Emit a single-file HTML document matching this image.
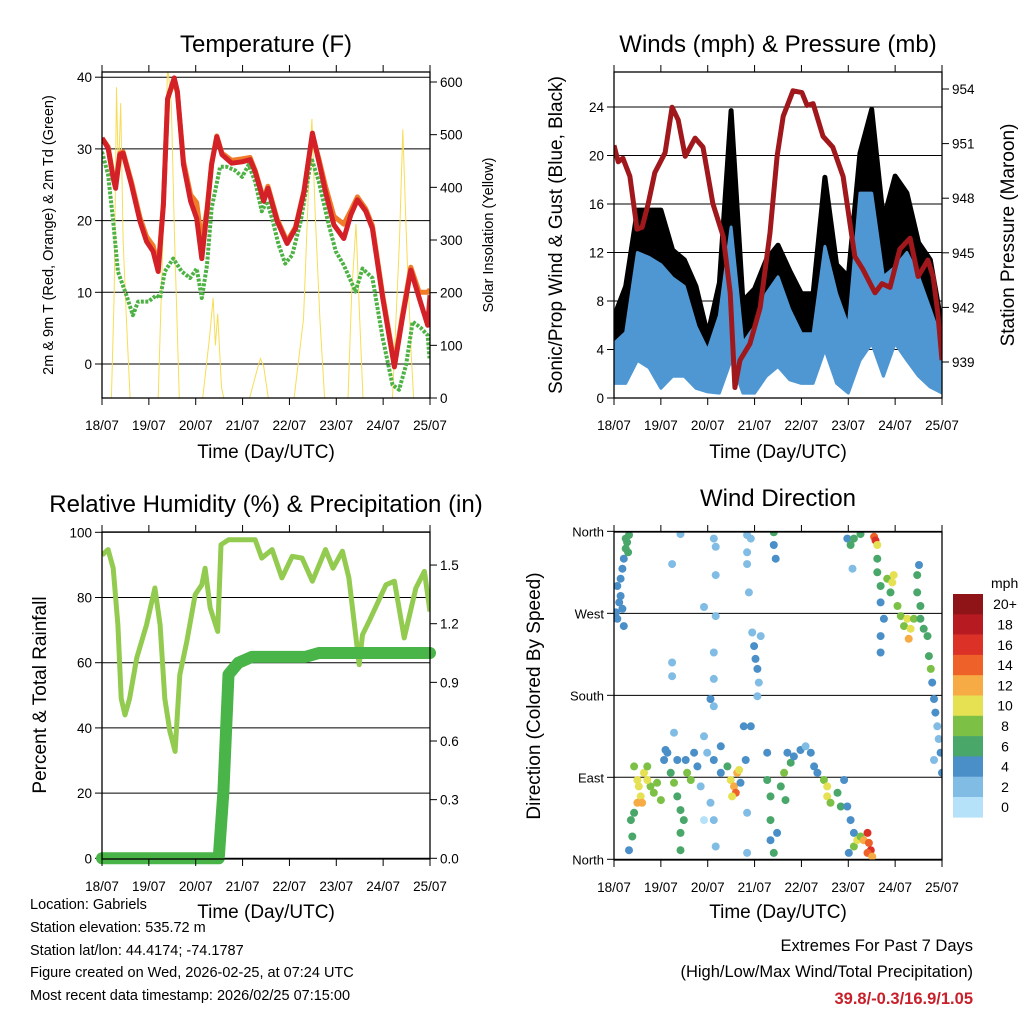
<!DOCTYPE html>
<html><head><meta charset="utf-8">
<style>
html,body{margin:0;padding:0;background:#fff;}
svg{display:block;font-family:"Liberation Sans",Arial,sans-serif;}
</style></head>
<body>
<svg id="root" width="1024" height="1024" viewBox="0 0 1024 1024" xmlns="http://www.w3.org/2000/svg">
<defs>
<clipPath id="c1"><rect x="102" y="72" width="328" height="326"/></clipPath>
<clipPath id="c2"><rect x="614" y="72" width="328" height="326"/></clipPath>
<clipPath id="c3"><rect x="102" y="532" width="328" height="327"/></clipPath>
<clipPath id="c4"><rect x="614" y="532" width="328" height="328"/></clipPath>
</defs>
<g id="g1"></g>
<g id="g2"></g>
<g id="g3"></g>
<g id="g4"></g>
<g font-size="14.5" fill="#000">
<text x="30" y="909">Location: Gabriels</text>
<text x="30" y="932">Station elevation: 535.72 m</text>
<text x="30" y="955">Station lat/lon: 44.4174; -74.1787</text>
<text x="30" y="977">Figure created on Wed, 2026-02-25, at 07:24 UTC</text>
<text x="30" y="1000">Most recent data timestamp: 2026/02/25 07:15:00</text>
</g>
<g text-anchor="end">
<text x="973" y="951" font-size="16.5">Extremes For Past 7 Days</text>
<text x="973" y="977" font-size="16.5">(High/Low/Max Wind/Total Precipitation)</text>
<text x="973" y="1004" font-size="16.5" font-weight="bold" fill="#c8202a">39.8/-0.3/16.9/1.05</text>
</g>
</svg>
<script>
// ---------- data ----------
const dayLabels = ["18/07","19/07","20/07","21/07","22/07","23/07","24/07","25/07"];
const tempTicks = [0,10,20,30,40];
const solarTicks = [0,100,200,300,400,500,600];
const windTicks = [0,4,8,12,16,20,24];
const presTicks = [939,942,945,948,951,954];
const rhTicks = [0,20,40,60,80,100];
const precTicks = [0.0,0.3,0.6,0.9,1.2,1.5];
const precTickLabels = ["0.0","0.3","0.6","0.9","1.2","1.5"];
const dirTicks = [0,90,180,270,360];
const dirTickLabels = ["North","East","South","West","North"];
const speedBins = ["0","2","4","6","8","10","12","14","16","18","20+"];

const tempT = [0,0.13,0.24,0.29,0.38,0.45,0.63,0.81,0.95,1.09,1.2,1.31,1.4,1.54,1.61,1.74,1.89,2.02,2.13,2.24,2.34,2.45,2.56,2.77,2.99,3.16,3.27,3.45,3.54,3.74,3.95,4.13,4.31,4.49,4.63,4.77,4.95,5.16,5.31,5.45,5.63,5.77,5.99,6.24,6.41,6.59,6.77,6.95,7.0];
const temp2m = [31.5,30.1,25.9,24.5,29.2,29.4,25,19.9,17.1,15.7,12.9,22.2,37,39.9,38,27.8,22.7,20.3,14.7,21.3,27.8,31.7,29.2,28,28.2,28.5,26.8,22.7,24.5,19.9,16.8,18.9,24,32.2,28.2,24,19.4,17.5,20.8,22.9,21.3,18.9,9.2,-0.4,6.4,13.1,9.2,5.4,9.6];
const temp9m = [31.5,30.3,26.2,24.8,29.4,29.6,25.4,20.4,17.8,16.5,13.5,22.4,37,39.6,37.8,28.3,23.6,22.5,17,21.6,28,31.8,29.4,28.4,28.6,28.8,27,23,24.8,20.2,17.1,19.1,24.2,32,28.6,24.8,20.6,19.5,21.4,23.3,21.6,19.3,9.6,0,6.8,13.5,10,10,10.4];
const dewT = [0,0.13,0.24,0.34,0.52,0.66,0.77,0.99,1.16,1.24,1.34,1.52,1.7,1.88,2.02,2.13,2.24,2.34,2.52,2.66,2.84,2.99,3.13,3.27,3.41,3.52,3.63,3.77,3.91,4.06,4.24,4.47,4.63,4.84,4.99,5.16,5.41,5.56,5.77,5.99,6.2,6.34,6.49,6.63,6.81,6.95,6.99];
const dewV = [29.6,26.4,19.9,12.9,9.6,6.8,8.7,8.7,9.6,9.2,12.9,14.7,12.9,12,13.3,9.2,13.8,21.7,27.5,27.5,27,26.1,27.8,25.4,21.3,22.7,20.3,16.6,14,15.2,19.9,28.7,25.4,19.4,15.7,13.8,10.1,13.3,12,3.6,-2.9,-3.6,-0.1,5.9,5,4,0.8];
const solarT = [0,0.2,0.26,0.31,0.35,0.4,0.45,0.52,0.6,1.2,1.3,1.4,1.48,1.55,1.65,2.15,2.3,2.37,2.42,2.47,2.55,2.6,3.15,3.3,3.38,3.45,3.55,4.1,4.3,4.43,4.48,4.55,4.65,4.75,5.25,5.33,5.42,5.5,5.57,6.2,6.35,6.42,6.48,6.52,6.6,6.65,7];
const solarV = [0,0,200,590,420,560,300,150,0,0,300,630,560,300,0,0,120,190,100,160,20,0,0,50,75,60,0,0,150,450,530,350,150,0,0,200,330,150,0,0,300,510,350,250,80,0,0];

const windT = [0,0.25,0.5,0.75,1,1.25,1.5,1.75,2,2.25,2.5,2.75,3,3.25,3.5,3.75,4,4.25,4.5,4.75,5,5.25,5.5,5.75,6,6.25,6.5,6.75,7];
const gustHi = [6.7,9.2,15.5,15.5,15.5,12.2,11.4,9.2,5.2,9.5,23.7,8,9,11.4,12.6,10.5,8.6,8.6,18.2,11,10,20.2,23.8,14.7,18.3,16.9,12.8,11.4,5.9];
const gustLo = [4.5,5.4,10,8.6,8,7,5.9,4.5,3.3,3.3,12.8,5,4.5,6.8,7.6,6.4,4.7,4.4,8.6,6.4,5.4,11.4,12.8,7.3,11.4,10,7.3,5.9,3.1];
const windHi = [4.5,5.4,12,11.6,11,9.9,9.2,5.9,3.9,6.8,14.1,4.5,5.9,8.6,10,7.3,5.3,5.3,12.5,8.6,5.9,16.9,16.9,10,10.8,12,10,7.3,4.5];
const windLo = [1.2,1.2,3.1,2.5,0.8,1.8,1.8,0.8,0.5,0.4,3.1,0.4,0.4,1.8,2.6,1.5,1.2,1.2,4,1.2,0.4,3.1,4.5,1.8,4.5,3.1,1.8,0.9,0.4];
const presT = [0,0.09,0.19,0.34,0.49,0.6,0.73,0.87,1.09,1.24,1.37,1.52,1.73,1.9,2.11,2.33,2.48,2.58,2.69,2.9,3.12,3.33,3.48,3.61,3.82,4.01,4.12,4.25,4.46,4.67,4.89,5.14,5.31,5.57,5.72,5.89,6.1,6.32,6.49,6.7,6.81,6.91,7.0];
const presV = [950.9,950,950.2,949.2,946.3,946.4,947.7,949.4,950.5,953,952.3,950.3,951.3,950.8,947.7,945.9,942.8,937.6,939.1,940,942,946.1,950.3,952.5,953.9,953.8,953.1,953.2,951.4,950.8,949.2,944.8,944.1,942.8,943.3,943.1,945.2,945.8,943.7,944.6,943.7,941.7,939.1];

const rhT = [0,0.13,0.24,0.34,0.41,0.49,0.59,0.74,0.95,1.13,1.24,1.34,1.45,1.56,1.66,1.81,1.99,2.13,2.2,2.31,2.47,2.54,2.7,3.27,3.41,3.63,3.84,4.06,4.27,4.49,4.77,4.93,5.13,5.27,5.49,5.56,5.7,6.06,6.24,6.45,6.7,6.88,7.0];
const rhV = [93,94.7,89,71.6,49,44,49,61.4,71.6,82.9,71.6,49,38.9,32.8,56.3,66.5,80.9,83.9,89,76.8,69.6,96.2,97.7,97.7,92.1,94.7,86,92.6,92.1,85,94.7,89,94.2,86,59.4,68.6,72.7,83.9,85,67.6,82.9,88,75.7];
const precT = [0,2.49,2.59,2.7,2.91,3.2,4.34,4.63,7.0];
const precV = [0,0,0.34,0.94,1.0,1.03,1.03,1.05,1.05];

const dirDay = [0.07,0.11,0.07,0.14,0.18,0.21,0.25,0.28,0.32,0.14,0.04,0.21,0.25,0.30,0.18,
0.43,0.50,0.53,0.57,0.50,0.60,0.64,0.71,0.78,0.85,0.92,1.00,0.71,1.07,1.14,1.21,1.28,1.35,1.42,1.49,1.42,1.42,0.36,0.39,0.32,0.43,
1.10,1.28,1.35,1.56,1.64,1.53,1.71,1.78,1.85,1.92,1.99,2.06,2.13,1.92,2.13,2.28,2.28,2.42,2.49,2.56,2.60,2.63,2.67,2.52,2.70,2.77,2.81,2.92,2.84,2.84,
2.17,2.13,2.06,2.13,2.13,2.17,1.92,2.17,2.17,2.13,1.24,1.24,1.24,1.42,2.88,2.84,2.84,2.84,2.92,
2.99,3.02,3.06,3.09,3.13,2.95,3.06,3.27,3.34,3.34,3.41,3.34,3.48,3.27,3.41,3.41,3.45,3.56,3.63,3.66,3.77,3.70,3.84,3.98,4.09,4.20,4.27,4.34,4.48,4.55,4.55,4.62,4.77,4.84,4.91,4.98,5.05,5.12,5.01,
5.12,5.19,5.26,5.33,5.41,5.44,5.48,5.41,5.51,
4.98,5.05,5.12,5.26,5.09,5.55,5.58,5.62,5.62,5.62,
5.69,5.83,5.94,5.97,5.90,5.69,5.76,5.69,5.69,6.05,6.12,6.19,6.26,6.33,6.29,6.40,6.47,6.47,6.54,6.54,6.61,6.69,6.72,6.76,6.79,6.83,6.86,6.90,6.93,6.97,7.00,6.83,6.51];
const dirDeg = [300,282,264,308,319,330,341,348,356,289,271,256,352,337,275,
102,87,80,69,62,62,95,102,80,73,84,65,87,109,117,95,84,69,54,43,29,10,43,25,10,51,
120,139,109,95,87,109,117,102,80,135,117,62,43,43,109,124,95,102,87,80,73,95,98,69,84,146,109,146,51,7,
14,168,176,198,227,267,277,312,343,352,201,216,324,357,293,324,337,356,352,
234,220,209,194,245,249,179,87,69,43,7,21,29,117,359,345,330,80,95,65,106,117,113,120,124,117,102,95,87,80,69,62,73,58,87,58,43,29,7,
14,21,25,21,29,18,10,7,3,
352,345,352,357,319,354,350,345,330,315,
300,308,304,312,293,282,264,245,227,278,267,256,264,253,242,264,312,293,278,264,253,245,223,209,194,176,161,146,132,117,95,109,323];
const dirSpd = [4,4,3,4,4,4,6,6,5,3,3,4,6,5,4,
8,10,10,10,12,11,9,8,8,7,8,8,9,4,4,5,8,6,6,6,6,6,6,6,4,6,
3,2,4,8,8,4,3,3,2,2,2,2,2,0,4,4,4,6,9,12,14,12,10,10,4,4,3,4,2,2,
2,2,3,2,2,2,2,2,2,2,1,2,1,2,1,1,1,2,2,
4,4,3,2,1,1,2,6,6,6,6,4,4,4,6,4,4,6,7,6,5,4,4,3,2,4,4,4,8,10,10,8,6,6,3,4,4,4,4,
8,10,8,12,16,14,16,14,12,
4,6,6,6,2,14,16,10,6,6,
6,8,10,10,6,4,4,4,4,8,8,8,10,10,12,8,6,6,6,6,6,6,6,8,4,4,4,2,2,4,4,1,4];
const speedColors = ["#b5e2f8","#81bce5","#4a8fc7","#4aa76a","#7cc146","#e6e053","#f6ab45","#ee6128","#dc3127","#b71b21","#8e1418"];

// ---------- helpers ----------
const NS = "http://www.w3.org/2000/svg";
function mk(parent, tag, attrs, txt){
  const e = document.createElementNS(NS, tag);
  for (const k in attrs) e.setAttribute(k, attrs[k]);
  if (txt !== undefined) e.textContent = txt;
  parent.appendChild(e);
  return e;
}
function xScale(x0,x1){ return d => x0 + d*(x1-x0)/7; }
function pathFrom(xs, ys, fx, fy){
  let s = "";
  for (let i=0;i<xs.length;i++) s += (i?"L":"M") + fx(xs[i]).toFixed(1) + "," + fy(ys[i]).toFixed(1);
  return s;
}
function bandFrom(xs, hi, lo, fx, fy){
  let s = "";
  for (let i=0;i<xs.length;i++) s += (i?"L":"M") + fx(xs[i]).toFixed(1)+","+fy(hi[i]).toFixed(1);
  for (let i=xs.length-1;i>=0;i--) s += "L" + fx(xs[i]).toFixed(1)+","+fy(lo[i]).toFixed(1);
  return s + "Z";
}
function xAxis(g, x0, x1, yb, yt, titleY){
  const fx = xScale(x0,x1);
  dayLabels.forEach((lab,i)=>{
    const x = fx(i);
    const tb = mk(g,"line",{x1:x,y1:yb,x2:x,y2:yb+7,stroke:"#000","stroke-width":1});
    
    
    const tt = mk(g,"line",{x1:x,y1:yt,x2:x,y2:yt-7,stroke:"#000","stroke-width":1});
    
    
    const t = mk(g,"text",{x:x,y:yb+32,"font-size":13.5,"text-anchor":"middle"},lab);
    
    
  });
  const tl = mk(g,"text",{x:(x0+x1)/2,y:titleY,"font-size":19,"text-anchor":"middle"},"Time (Day/UTC)");
  
  
}
function yTicks(g, vals, labels, fy, x, side, grid, x0, x1, fs){
  vals.forEach((v,i)=>{
    const y = fy(v);
    if (grid){
      const gl = mk(g,"line",{x1:x0,y1:y,x2:x1,y2:y,stroke:"#000","stroke-width":1});
      
      
    }
    const dx = side==="left" ? -7 : 7;
    const tk = mk(g,"line",{x1:x,y1:y,x2:x+dx,y2:y,stroke:"#000","stroke-width":1});
    
    
    const t = mk(g,"text",{x: side==="left"? x-10 : x+10, y:y+5,"font-size":fs||13.5,"text-anchor": side==="left"?"end":"start"}, labels? labels[i] : String(v));
    
    
  });
}
function frame(g,x0,y0,x1,y1){
  const r = mk(g,"rect",{x:x0,y:y0,width:x1-x0,height:y1-y0,fill:"none",stroke:"#000","stroke-width":1.3});
  
  
}
function vtext(g,x,y,txt,fs,name){
  const t = mk(g,"text",{x:0,y:0,"font-size":fs,"text-anchor":"middle",transform:`translate(${x},${y}) rotate(-90)`},txt);
  
  
}
function title(g,x,y,txt,name){
  const t = mk(g,"text",{x:x,y:y,"font-size":24,"text-anchor":"middle"},txt);
  
  
}

// ---------- Panel 1: Temperature ----------
(function(){
  const g = document.getElementById("g1");
  const fx = xScale(102,430);
  const fy = t => 364 - t*7.17;
  const fs = s => 398 - s*316/600;
  title(g,266,52,"Temperature (F)","temperature-title");
  yTicks(g,tempTicks,null,fy,102,"left",true,102,430);
  yTicks(g,solarTicks,null,fs,430,"right",false);
  const c = mk(g,"g",{"clip-path":"url(#c1)"});
  const sol = mk(c,"path",{d:pathFrom(solarT,solarV,fx,fs),fill:"none",stroke:"#f7dd55","stroke-width":1});
  
  
  const dew = mk(c,"path",{d:pathFrom(dewT,dewV,fx,fy),fill:"none",stroke:"#4db244","stroke-width":4,"stroke-dasharray":"3 1.5","stroke-linejoin":"round"});
  
  
  const o = mk(c,"path",{d:pathFrom(tempT,temp9m,fx,fy),fill:"none",stroke:"#f07c2a","stroke-width":5,"stroke-linejoin":"round"});
  
  
  const r = mk(c,"path",{d:pathFrom(tempT,temp2m,fx,fy),fill:"none",stroke:"#d42027","stroke-width":5,"stroke-linejoin":"round"});
  
  
  frame(g,102,72,430,398);
  xAxis(g,102,430,398,72,458);
  vtext(g,53,235,"2m & 9m T (Red, Orange) & 2m Td (Green)",14.5,"left-y-axis-title");
  vtext(g,493,235,"Solar Insolation (Yellow)",14.5,"right-y-axis-title");
})();

// ---------- Panel 2: Winds & Pressure ----------
(function(){
  const g = document.getElementById("g2");
  const fx = xScale(614,942);
  const fy = v => 398 - v*12.125;
  const fp = p => 89 + (954-p)*18.2;
  title(g,778,52,"Winds (mph) & Pressure (mb)","winds-title");
  yTicks(g,windTicks,null,fy,614,"left",true,614,942);
  yTicks(g,presTicks,null,fp,942,"right",false);
  const c = mk(g,"g",{"clip-path":"url(#c2)"});
  const gb = mk(c,"path",{d:bandFrom(windT,gustHi,gustLo,fx,fy),fill:"#000",stroke:"#000","stroke-width":5,"stroke-linejoin":"round"});
  
  
  const wb = mk(c,"path",{d:bandFrom(windT,windHi,windLo,fx,fy),fill:"#4f97d3",stroke:"#4f97d3","stroke-width":3,"stroke-linejoin":"round"});
  
  
  const pl = mk(c,"path",{d:pathFrom(presT,presV,fx,fp),fill:"none",stroke:"#a0181c","stroke-width":5,"stroke-linejoin":"round"});
  
  
  frame(g,614,72,942,398);
  xAxis(g,614,942,398,72,458);
  vtext(g,562,235,"Sonic/Prop Wind & Gust (Blue, Black)",19,"left-y-axis-title");
  vtext(g,1014,235,"Station Pressure (Maroon)",19,"right-y-axis-title");
})();

// ---------- Panel 3: RH & Precip ----------
(function(){
  const g = document.getElementById("g3");
  const fx = xScale(102,430);
  const fy = r => 858.3 - r*3.26;
  const fp = p => 858.3 - p*195.5;
  title(g,266,512,"Relative Humidity (%) & Precipitation (in)","humidity-title");
  yTicks(g,rhTicks,null,fy,102,"left",true,102,430);
  yTicks(g,precTicks,precTickLabels,fp,430,"right",false);
  const c = mk(g,"g",{"clip-path":"url(#c3)"});
  const rh = mk(c,"path",{d:pathFrom(rhT,rhV,fx,fy),fill:"none",stroke:"#92cb50","stroke-width":5,"stroke-linejoin":"round"});
  
  
  const pr = mk(g,"path",{d:pathFrom(precT,precV,fx,fp),fill:"none",stroke:"#49b447","stroke-width":12,"stroke-linejoin":"round","stroke-linecap":"round"});
  
  
  frame(g,102,532,430,859);
  xAxis(g,102,430,859,532,918);
  vtext(g,46,695,"Percent & Total Rainfall",19,"left-y-axis-title");
})();

// ---------- Panel 4: Wind Direction ----------
(function(){
  const g = document.getElementById("g4");
  const fx = xScale(614,942);
  const fy = d => 859.3 - d*0.911;
  title(g,778,506,"Wind Direction","wind-direction-title");
  yTicks(g,dirTicks,dirTickLabels,fy,614,"left",true,614,942,13);
  const c = mk(g,"g",{"clip-path":"url(#c4)"});
  for (let i=0;i<dirDay.length;i++){
    const bin = Math.max(0,Math.min(10,Math.round(dirSpd[i]/2)));
    const deg = Math.max(0,Math.min(360,dirDeg[i]));
    const p = mk(c,"circle",{cx:fx(dirDay[i]).toFixed(1),cy:fy(deg).toFixed(1),r:4,fill:speedColors[bin]});
    
    
  }
  frame(g,614,532,942,860);
  xAxis(g,614,942,860,532,918);
  vtext(g,540,696,"Direction (Colored By Speed)",19,"left-y-axis-title");
  const cb = mk(g,"g",{});
  
  
  const ul = mk(cb,"text",{x:991,y:588,"font-size":14},"mph");
  
  
  const h = 20.3;
  for (let k=0;k<speedBins.length;k++){
    const idx = speedBins.length-1-k;
    const y = 594 + k*h;
    const r = mk(cb,"rect",{x:953,y:y,width:30,height:h+0.3,fill:speedColors[idx]});
    
    
    const t = mk(cb,"text",{x:1005,y:y+h/2+5,"font-size":14,"text-anchor":"middle"},speedBins[idx]);
    
    
  }
})();
</script>
</body></html>
